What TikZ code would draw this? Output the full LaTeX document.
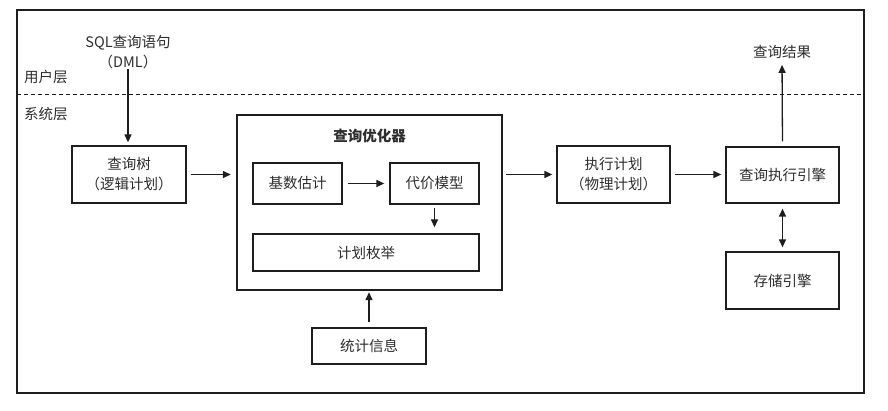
\documentclass[tikz,border=0pt]{standalone}
\usepackage{fontspec}
\setmainfont{Noto Sans CJK SC}
\usetikzlibrary{arrows.meta}
\definecolor{ink}{HTML}{1E1E1E}
\definecolor{txt}{HTML}{2E2E2E}
\tikzset{
  box/.style={draw=ink, line width=1.3pt, minimum width=113pt, minimum height=57pt, inner sep=0pt, align=center, text=txt, font=\fontsize{14.5}{20}\selectfont},
  innerbox/.style={box, minimum width=89pt, minimum height=41pt},
  lbl/.style={text=txt, font=\fontsize{14.5}{20}\selectfont, inner sep=0pt, align=center},
  arr/.style={draw=ink, line width=1.3pt, -{Triangle[length=8pt,width=7pt]}},
  darr/.style={draw=ink, line width=1.3pt, {Triangle[length=8pt,width=7pt]}-{Triangle[length=8pt,width=7pt]}}
}
\begin{document}
\begin{tikzpicture}[x=1pt,y=-1pt]
\useasboundingbox (0,0) rectangle (888,411);
\fill[white] (0,0) rectangle (888,411);
% frame
\draw[ink, line width=1.1pt] (17,10) rectangle (864,393);
\coordinate (dl) at (17,95);
\coordinate (dr) at (864,95);
\draw[ink, line width=1pt, dash pattern=on 4pt off 3pt] (dl) -- (dr);
% layer labels
\node[lbl, anchor=west] (user) at (24,77) {用户层};
\node[lbl, anchor=west] (sys) at (24,114) {系统层};
% nodes
\node[lbl] (sql) at (128,52) {SQL查询语句\\（DML）};
\node[box, minimum width=114pt] (tree) at (129,174.5) {查询树\\（逻辑计划）};
\node[draw=ink, line width=2.4pt, minimum width=265pt, minimum height=175pt, inner sep=0pt] (opt) at (369.5,202.5) {};
\node[lbl, font=\fontsize{14.5}{18}\selectfont\bfseries] (title) at (369.5,136) {查询优化器};
\node[innerbox] (card) at (297.5,183.5) {基数估计};
\node[innerbox] (cost) at (434.5,183.5) {代价模型};
\node[box, minimum width=226pt, minimum height=37pt] (enum) at (366,252.5) {计划枚举};
\node[box, minimum width=114pt, minimum height=36pt] (stats) at (369,346) {统计信息};
\node[box] (plan) at (613.5,174.5) {执行计划\\（物理计划）};
\node[box, minimum height=56pt] (engine) at (782.5,175) {查询执行引擎};
\node[box] (storage) at (782.5,280.5) {存储引擎};
\node[lbl] (result) at (782,52) {查询结果};
% connectors
\draw[arr, shorten >=3pt] (sql.south) -- (sql.south |- tree.north);
\draw[arr, shorten <=4pt, shorten >=5pt] (tree.east) -- (tree.east -| opt.west);
\draw[arr, shorten <=5pt, shorten >=5pt] (card.east) -- (cost.west);
\draw[arr, shorten <=3pt, shorten >=6pt] (cost.south) -- (cost.south |- enum.north);
\draw[arr, shorten <=5pt, shorten >=1pt] (stats.north) -- (opt.south -| stats.north);
\draw[arr, shorten <=3pt, shorten >=4pt] (opt.east |- plan.west) -- (plan.west);
\draw[arr, shorten <=4pt, shorten >=4pt] (plan.east) -- (plan.east -| engine.west);
\draw[arr, shorten <=5pt, shorten >=6pt] (engine.north) -- (result.south);
\draw[darr, shorten <=5pt, shorten >=4pt] (engine.south) -- (storage.north);
\end{tikzpicture}
\end{document}
